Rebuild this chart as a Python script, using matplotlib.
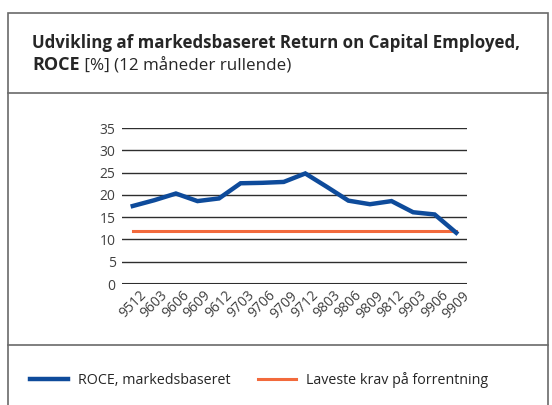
import numpy as np
import matplotlib
matplotlib.use('Agg')
import matplotlib.pyplot as plt
from matplotlib.patches import Rectangle
from matplotlib.lines import Line2D

plt.rcParams['font.family'] = ['Open Sans', 'DejaVu Sans']

# data
periods = ['9512', '9603', '9606', '9609', '9612', '9703', '9706', '9709',
           '9712', '9803', '9806', '9809', '9812', '9903', '9906', '9909']
roce = [17.5, 18.8, 20.3, 18.6, 19.2, 22.6, 22.7, 22.9,
        24.8, 21.8, 18.7, 17.9, 18.6, 16.1, 15.6, 11.5]
min_required = [12.0] * len(periods)
y_ticks = [0, 5, 10, 15, 20, 25, 30, 35]

COLORS = {
    'roce': '#0E4B9B',
    'krav': '#F26A3C',
    'grid': '#2E2E2E',
    'frame': '#6A6A6A',
    'text': '#262626',
    'tick': '#404040',
}

W, H = 552, 405
fig = plt.figure(figsize=(W / 100, H / 100), dpi=100)


def fx(px):
    return px / W


def fy(py):
    # pixel fra toppen -> figurbrøk
    return 1 - py / H


def fit_width(txt, target_px):
    """skaler fontstørrelse så teksten får ønsket bredde"""
    fig.canvas.draw()
    w = txt.get_window_extent().width
    txt.set_fontsize(txt.get_fontsize() * target_px / w)


# ---- ramme og skillelinjer ----
fig.patches.append(Rectangle((fx(8), fy(420)), fx(540), (420 - 13) / H,
                             transform=fig.transFigure, fill=False,
                             edgecolor=COLORS['frame'], linewidth=1.2))
for py in (92.5, 344.5):
    fig.add_artist(Line2D([fx(8), fx(548)], [fy(py), fy(py)],
                          transform=fig.transFigure,
                          color=COLORS['frame'], linewidth=1.2))

# ---- titel ----
t1 = fig.text(fx(32), fy(48.5), 'Udvikling af markedsbaseret Return on Capital Employed,',
              fontsize=12, fontweight='bold', color=COLORS['text'], va='baseline')
fit_width(t1, 485)
fs_title = t1.get_fontsize()
t_bold = fig.text(fx(32), fy(70.5), 'ROCE', fontsize=fs_title, fontweight='bold',
                  color=COLORS['text'], va='baseline')
fit_width(t_bold, 48)
fig.canvas.draw()
bb = t_bold.get_window_extent()
t_rest = fig.text(bb.x1 / W, fy(70.5), ' [%] (12 måneder rullende)', fontsize=fs_title,
                  color=COLORS['text'], va='baseline')
fit_width(t_rest, 212)

# ---- plot ----
ax = fig.add_axes([fx(122), fy(284), (467 - 122) / W, (284 - 128) / H])
x = np.arange(len(periods))
ax.plot(x, roce, color=COLORS['roce'], linewidth=3.2,
        solid_joinstyle='miter', label='ROCE, markedsbaseret', zorder=3)
ax.plot(x, min_required, color=COLORS['krav'], linewidth=2.2,
        solid_capstyle='projecting', label='Laveste krav på forrentning', zorder=2)

ax.set_xlim(-0.5, len(periods) - 0.5)
ax.set_ylim(0, 35)
ax.set_yticks(y_ticks)
for v in y_ticks:
    ax.axhline(v, color=COLORS['grid'], linewidth=1.0 if v else 1.5, zorder=1)
for s in ax.spines.values():
    s.set_visible(False)
ax.set_xticks(x)
ax.set_xticklabels(periods, rotation=45, ha='center', va='top')
ax.tick_params(axis='both', length=0, labelsize=10, labelcolor=COLORS['tick'])
ax.tick_params(axis='y', pad=4.5)
ax.tick_params(axis='x', pad=3)

# ---- legende ----
handles, labels = ax.get_legend_handles_labels()
leg = fig.legend(handles, labels, ncol=2, loc='center left',
                 bbox_to_anchor=(fx(30), fy(380)), frameon=False,
                 fontsize=10.3, labelcolor=COLORS['text'], handlelength=2.65,
                 handletextpad=0.7, columnspacing=1.95, borderpad=0, borderaxespad=0)

fig.savefig('out.png', dpi=100, facecolor='white')
